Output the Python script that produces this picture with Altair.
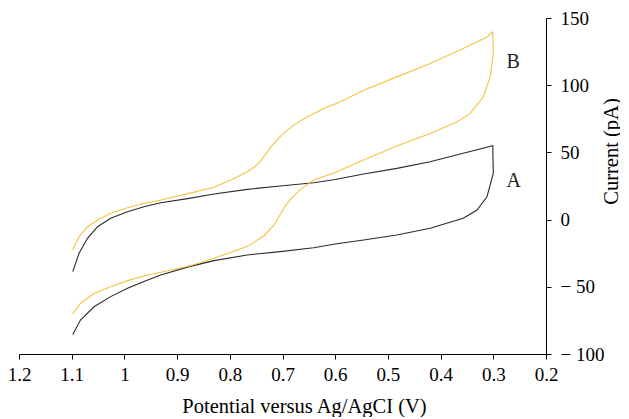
import altair as alt
import pandas as pd

# Curve A (black): upper branch 1.1 -> 0.3, then return branch 0.3 -> 1.1
a_potential = [1.098, 1.086, 1.07, 1.051, 1.026, 0.994, 0.963, 0.931, 0.877, 0.830, 0.767, 0.704,
               0.641, 0.60, 0.546, 0.483, 0.420, 0.357, 0.301,
               0.300, 0.312, 0.331, 0.357, 0.420, 0.483, 0.546, 0.60, 0.641, 0.704, 0.767, 0.830,
               0.877, 0.931, 0.963, 0.994, 1.026, 1.057, 1.083, 1.098]
a_current = [-38.7, -25.0, -13.9, -5.3, 1.0, 5.9, 9.6, 12.6, 15.8, 19.0, 22.5, 25.0,
             27.4, 29.8, 33.9, 38.1, 43.0, 49.3, 54.9,
             34.4, 17.0, 7.1, 1.0, -6.5, -11.4, -15.2, -18.1, -20.9, -23.8, -26.3, -30.5,
             -35.0, -41.2, -46.1, -51.0, -57.3, -64.7, -74.6, -85.5]

# Curve B (yellow)
b_potential = [1.098, 1.086, 1.07, 1.051, 1.026, 0.994, 0.963, 0.931, 0.877, 0.830, 0.798, 0.767,
               0.752, 0.742, 0.732, 0.723, 0.713, 0.704, 0.690, 0.679, 0.653, 0.622, 0.59, 0.546, 0.483,
               0.420, 0.357, 0.312, 0.301,
               0.300, 0.306, 0.319, 0.344, 0.369, 0.420, 0.483, 0.546, 0.60, 0.641, 0.666, 0.685,
               0.695, 0.704, 0.716, 0.735, 0.767, 0.830, 0.877, 0.931, 0.963, 0.994, 1.026, 1.057,
               1.083, 1.098]
b_current = [-22.6, -12.7, -5.3, -0.3, 4.7, 8.8, 12.1, 14.6, 19.5, 24.0, 29.4, 35.6,
             39.5, 43.5, 48.5, 53.5, 58.0, 62.0, 66.8, 70.3, 76.4, 82.7, 87.6, 96.3, 106.2,
             116.1, 127.3, 135.9, 139.6,
             123.6, 106.2, 91.3, 79.0, 72.7, 64.1, 54.7, 44.3, 35.0, 29.4, 22.5, 15.0,
             10.0, 4.0, -4.0, -12.0, -20.1, -28.8, -34.5, -39.2, -41.9, -45.4, -49.9, -54.8,
             -62.2, -70.1]

curve_names = ["A", "B"]
curve_colors = ["#2a2a2a", "#F2C440"]
label_potential = [0.275, 0.275]
label_current = [29.0, 117.5]

x_ticks = [1.2, 1.1, 1.0, 0.9, 0.8, 0.7, 0.6, 0.5, 0.4, 0.3, 0.2]
y_ticks = [-100, -50, 0, 50, 100, 150]

rows = []
for name, xs, ys in [("A", a_potential, a_current), ("B", b_potential, b_current)]:
    for i, (xv, yv) in enumerate(zip(xs, ys)):
        rows.append({"curve": name, "idx": i, "potential": xv, "current": yv})
df = pd.DataFrame(rows)
labels_df = pd.DataFrame({"curve": curve_names, "potential": label_potential, "current": label_current})

FONT = "Liberation Serif"

x_enc = alt.X(
    "potential:Q",
    scale=alt.Scale(domain=[0.2, 1.2], reverse=True, nice=False, zero=False),
    axis=alt.Axis(
        values=x_ticks, format=".1~f", title="Potential versus Ag/AgCI (V)",
        grid=False, domainColor="black", tickColor="black", tickSize=5, labelFlush=False,
        labelFont=FONT, labelFontSize=19, labelColor="black", labelPadding=6,
        titleFont=FONT, titleFontSize=20.5, titleFontWeight="normal", titleColor="black",
        titleX=285, titleY=58, titleBaseline="alphabetic", titleAnchor="middle",
    ),
)
y_enc = alt.Y(
    "current:Q",
    scale=alt.Scale(domain=[-100, 150], nice=False, zero=False),
    axis=alt.Axis(
        orient="right", values=y_ticks,
        labelExpr="datum.value < 0 ? '\u2212 ' + toString(-datum.value) : toString(datum.value)",
        title="Current (pA)", grid=False, domainColor="black", tickColor="black", tickSize=5,
        labelFont=FONT, labelFontSize=19, labelColor="black", labelPadding=9, labelAlign="left",
        labelFlush=False,
        titleFont=FONT, titleFontSize=20.5, titleFontWeight="normal", titleColor="black",
        titleAngle=270, titleX=71, titleY=133, titleBaseline="alphabetic", titleAlign="center",
    ),
)

lines = alt.Chart(df).mark_line(strokeWidth=1.1).encode(
    x=x_enc,
    y=y_enc,
    color=alt.Color("curve:N", scale=alt.Scale(domain=curve_names, range=curve_colors), legend=None),
    order=alt.Order("idx:Q"),
    detail="curve:N",
)

texts = alt.Chart(labels_df).mark_text(
    align="left", baseline="middle", font=FONT, fontSize=20, color="#222222"
).encode(
    x=alt.X("potential:Q"),
    y=alt.Y("current:Q"),
    text="curve:N",
)

chart = (lines + texts).properties(
    width=527, height=336,
    autosize=alt.AutoSizeParams(type="none"),
    padding={"left": 11, "top": 10, "right": 74, "bottom": 63},
).configure_view(stroke=None)

chart.save("out.html", embed_options={"renderer": "svg", "actions": False})
